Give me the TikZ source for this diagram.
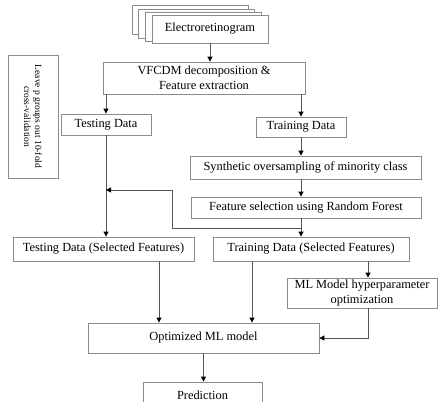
\documentclass[tikz,border=0pt]{standalone}
\usepackage{fontspec}
\setmainfont{Liberation Serif}
\usetikzlibrary{arrows.meta}
\definecolor{boxgray}{RGB}{140,140,140}
\definecolor{linegray}{RGB}{85,85,85}
\begin{document}
\begin{tikzpicture}[x=1pt,y=-1pt,
  box/.style={draw=boxgray, line width=0.8pt, fill=white, inner sep=0pt, align=center,
    font=\fontsize{12.4}{15}\selectfont},
  conn/.style={draw=linegray, line width=0.8pt, -{Triangle[width=5pt,length=5pt,color=black]}}]
\useasboundingbox (0,0) rectangle (445,402);
\clip (0,0) rectangle (445,402);
% stacked input
\node[box, minimum width=116pt, minimum height=29pt] (erg1) at (190,20) {};
\node[box, minimum width=116pt, minimum height=29pt] (erg2) at (196.5,23.5) {};
\node[box, minimum width=116pt, minimum height=29pt] (erg3) at (203.5,26.5) {};
\node[box, minimum width=116pt, minimum height=28pt] (erg) at (210,29) {Electroretinogram};
\node[box, minimum width=202pt, minimum height=32pt] (vfcdm) at (204,78) {VFCDM decomposition \&\\Feature extraction};
\node[box, minimum width=90pt, minimum height=21pt] (test) at (106,124.5) {Testing Data};
\node[box, minimum width=90pt, minimum height=20pt] (train) at (301,127) {Training Data};
\node[box, minimum width=231pt, minimum height=23pt] (synth) at (305.5,167.5) {Synthetic oversampling of minority class};
\node[box, minimum width=230pt, minimum height=21pt] (fsel) at (306,207.5) {Feature selection using Random Forest};
\node[box, minimum width=181pt, minimum height=24pt] (testsel) at (103.5,249) {Testing Data (Selected Features)};
\node[box, minimum width=196pt, minimum height=24pt] (trainsel) at (311,249) {Training Data (Selected Features)};
\node[box, minimum width=150pt, minimum height=30pt] (hyper) at (362,293) {ML Model hyperparameter\\optimization};
\node[box, minimum width=231pt, minimum height=30pt] (opt) at (203.5,338) {Optimized ML model};
\node[box, minimum width=119pt, minimum height=26pt] (pred) at (202.5,395) {Prediction};
\node[box, minimum width=123pt, minimum height=50pt, rotate=-90,
  font=\fontsize{9.5}{11}\selectfont] (leave) at (33,116.5) {Leave p groups out 10-fold\\cross-validation};
% connectors
\draw[conn] (erg.south) -- (erg.south |- vfcdm.north);
\draw[conn] (test.north |- vfcdm.south) -- (test.north);
\draw[conn] (train.north |- vfcdm.south) -- (train.north);
\draw[conn] (train.south) -- (train.south |- synth.north);
\draw[conn] (train.south |- synth.south) -- (train.south |- fsel.north);
\draw[conn] (train.south |- fsel.south) -- (train.south |- trainsel.north);
\draw[conn] (test.south) -- (test.south |- testsel.north);
\coordinate (j1) at (301,228);
\coordinate (k1) at (172,228);
\coordinate (k2) at (172,190);
\coordinate (k3) at (106,190);
\draw[conn] (j1) -- (k1) -- (k2) -- (k3);
\path ([xshift=55.5pt]testsel.south) coordinate (ts1);
\path ([xshift=-59pt]trainsel.south) coordinate (ts2);
\path ([xshift=57pt]trainsel.south) coordinate (ts3);
\draw[conn] (ts1) -- (ts1 |- opt.north);
\draw[conn] (ts2) -- (ts2 |- opt.north);
\draw[conn] (ts3) -- (ts3 |- hyper.north);
\draw[conn] (ts3 |- hyper.south) -- (ts3 |- opt.east) -- (opt.east);
\draw[conn] (opt.south) -- (opt.south |- pred.north);
\end{tikzpicture}
\end{document}
